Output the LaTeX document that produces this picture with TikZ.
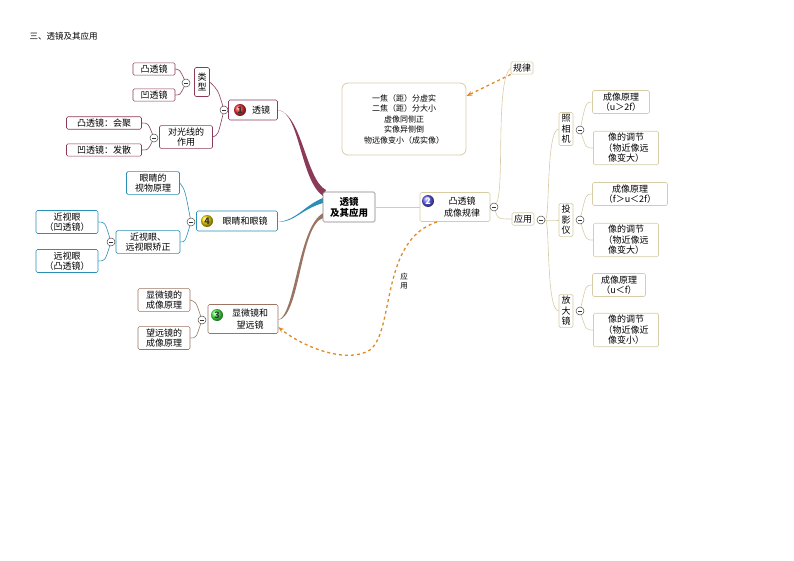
\documentclass[tikz,border=0pt]{standalone}
\usepackage{fontspec}
\setmainfont{Noto Sans CJK SC}
\usetikzlibrary{arrows.meta}
\definecolor{mar}{HTML}{8B3A5A}
\definecolor{tea}{HTML}{2A8FB5}
\definecolor{brn}{HTML}{9A7563}
\definecolor{bei}{HTML}{D6CDA6}
\definecolor{org}{HTML}{E08A2A}
\begin{document}
\begin{tikzpicture}[x=1pt,y=-1pt,font=\fontsize{9}{10.5}\selectfont,
 bx/.style={draw=#1,rounded corners=1.5pt,fill=white,align=center,inner sep=2pt,line width=0.6pt},
 bx/.default=gray,
 mn/.style={circle,draw=black!70,fill=white,inner sep=0pt,minimum size=8pt,line width=0.5pt,
   path picture={\draw[black!80,line width=0.6pt] ([xshift=-2pt]path picture bounding box.center) -- ([xshift=2pt]path picture bounding box.center);}},
 badge/.style={circle,shading=ball,ball color=#1,text=black!80,inner sep=0pt,minimum size=12pt,font=\bfseries\fontsize{9}{9}\selectfont},
 ln/.style={draw=#1,line width=0.6pt},
 dsh/.style={draw=org,dashed,line width=1.3pt,-{Stealth[length=6pt]}}]
\useasboundingbox (0,0) rectangle (794,561);
\node[anchor=west,font=\fontsize{8.5}{9}\selectfont] (title) at (26,36) {三、透镜及其应用};
% tapered branches
\fill[mar] (323,196) .. controls (300,180) and (300,112) .. (278,110) .. controls (302,114) and (306,180) .. (326,190) -- cycle;
\fill[tea] (323,203) .. controls (300,210) and (295,222) .. (278,222) .. controls (297,220) and (305,205) .. (323,198) -- cycle;
\fill[brn] (323,218) .. controls (300,225) and (300,318) .. (278,320) .. controls (296,316) and (298,220) .. (326,212) -- cycle;
% center
\node[bx=gray,font=\bfseries\fontsize{9.5}{11}\selectfont,minimum width=52pt,minimum height=30pt] (c) at (349,207) {透镜\\及其应用};
% branch 1
\node[bx=mar,minimum width=49pt,minimum height=20pt] (b1) at (253,110) {\hspace{16pt}透镜};
\node[badge=red!80!white] (n1) at (240,110) {1};
\node[mn] (m1) at (224,110) {};
\node[bx=mar,minimum height=29pt,text width=11pt] (lx) at (202,82) {类\\型};
\node[mn] (mlx) at (186,83) {};
\node[bx=mar,minimum width=42pt] (t1) at (154,69) {凸透镜};
\node[bx=mar,minimum width=42pt] (t2) at (154,95) {凹透镜};
\node[bx=mar,minimum width=53pt] (dg) at (186,137) {对光线的\\作用};
\node[mn] (mdg) at (154,138) {};
\node[bx=mar,minimum width=75pt] (hj) at (104,123) {凸透镜：会聚};
\node[bx=mar,minimum width=75pt] (fs) at (104,150) {凹透镜：发散};
\draw[ln=mar] (m1) .. controls (218,90) .. (lx.east);
\draw[ln=mar] (m1) .. controls (218,135) .. (dg.east);
\draw[ln=mar] (mlx) .. controls (180,70) .. (t1.east);
\draw[ln=mar] (mlx) .. controls (180,95) .. (t2.east);
\draw[ln=mar] (mdg) .. controls (148,123) .. (hj.east);
\draw[ln=mar] (mdg) .. controls (148,150) .. (fs.east);
% branch 4
\node[bx=tea,minimum width=81pt,minimum height=20pt] (b4) at (237,221) {\hspace{16pt}眼睛和眼镜};
\node[badge=yellow!80!orange] (n4) at (207,221) {4};
\node[mn] (m4) at (191,222) {};
\node[bx=tea,minimum width=53pt] (ys) at (153,183) {眼睛的\\视物原理};
\node[bx=tea,minimum width=64pt] (jz) at (148,242) {近视眼、\\远视眼矫正};
\node[mn] (mjz) at (111,242) {};
\node[bx=tea,text width=58pt] (jsy) at (67,222) {近视眼\\（凹透镜）};
\node[bx=tea,text width=58pt] (ysy) at (67,261) {远视眼\\（凸透镜）};
\draw[ln=tea] (m4) .. controls (185,190) .. (ys.east);
\draw[ln=tea] (m4) .. controls (185,242) .. (jz.east);
\draw[ln=tea] (mjz) .. controls (105,222) .. (jsy.east);
\draw[ln=tea] (mjz) .. controls (105,261) .. (ysy.east);
% branch 3
\node[bx=brn,minimum width=70pt,minimum height=29pt] (b3) at (243,319) {\hspace{14pt}\shortstack{显微镜和\\望远镜}};
\node[badge=green!70!white] (n3) at (217,315) {3};
\node[mn] (m3) at (202,320) {};
\node[bx=brn,minimum width=52pt] (xw) at (164,300) {显微镜的\\成像原理};
\node[bx=brn,minimum width=52pt] (wy) at (164,338) {望远镜的\\成像原理};
\draw[ln=brn] (m3) .. controls (196,302) .. (xw.east);
\draw[ln=brn] (m3) .. controls (196,338) .. (wy.east);
% branch 2
\draw[ln=bei] (c.east) -- (420,207);
\node[bx=bei,minimum width=70pt,minimum height=29pt] (b2) at (455,207) {\hspace{14pt}\shortstack{凸透镜\\成像规律}};
\node[badge=blue!60!white,text=white] (n2) at (428,201) {2};
\node[mn] (m2) at (494,207) {};
\node[bx=bei] (gl) at (522,68) {规律};
\node[draw=bei,rounded corners=6pt,line width=0.8pt,align=center,inner sep=3pt,minimum width=124pt,minimum height=72pt,font=\fontsize{8}{10.5}\selectfont] (rules) at (404,119) {一焦（距）分虚实\\二焦（距）分大小\\虚像同侧正\\实像异侧倒\\物远像变小（成实像）};
\node[bx=bei] (yy) at (523,219) {应用};
\node[mn] (myy) at (541,220) {};
\draw[ln=bei] (m2) .. controls (505,190) and (495,80) .. (gl.west);
\draw[ln=bei] (m2) .. controls (498,219) .. (yy.west);
\node[bx=bei,text width=10pt] (zx) at (566,129) {照\\相\\机};
\node[bx=bei,text width=10pt] (ty) at (566,220) {投\\影\\仪};
\node[bx=bei,text width=10pt] (fd) at (566,311) {放\\大\\镜};
\foreach \n in {zx,ty,fd} \draw[ln=bei] (myy) .. controls (550,220) and (546,0|-\n) .. (\n.west);
\node[mn] (mzx) at (580,130) {};
\node[mn] (mty) at (580,220) {};
\node[mn] (mfd) at (580,311) {};
\node[bx=bei,minimum width=57pt] (a1) at (621,102) {成像原理\\（u＞2f）};
\node[bx=bei,minimum width=65pt] (a2) at (626,148) {像的调节\\（物近像远\\像变大）};
\node[bx=bei,minimum width=75pt] (b1x) at (630,194) {成像原理\\（f＞u＜2f）};
\node[bx=bei,minimum width=65pt] (b2x) at (626,240) {像的调节\\（物近像远\\像变大）};
\node[bx=bei,minimum width=53pt] (c1) at (619,285) {成像原理\\（u＜f）};
\node[bx=bei,minimum width=65pt] (c2) at (626,330) {像的调节\\（物近像近\\像变小）};
\draw[ln=bei] (mzx) .. controls (586,102) .. (a1.west);
\draw[ln=bei] (mzx) .. controls (586,148) .. (a2.west);
\draw[ln=bei] (mty) .. controls (586,194) .. (b1x.west);
\draw[ln=bei] (mty) .. controls (586,240) .. (b2x.west);
\draw[ln=bei] (mfd) .. controls (586,285) .. (c1.west);
\draw[ln=bei] (mfd) .. controls (586,330) .. (c2.west);
% dashed relations
\draw[dsh] (gl.south west) -- (rules.east |- 0,96);
\coordinate (d1) at (437,222);
\draw[dsh] (d1) .. controls (380,240) and (395,330) .. (370,350) .. controls (345,365) and (300,345) .. (b3.east |- 0,327);
\node[align=center,font=\fontsize{7.5}{9}\selectfont] (lyy) at (404,281) {应\\用};
\end{tikzpicture}
\end{document}
